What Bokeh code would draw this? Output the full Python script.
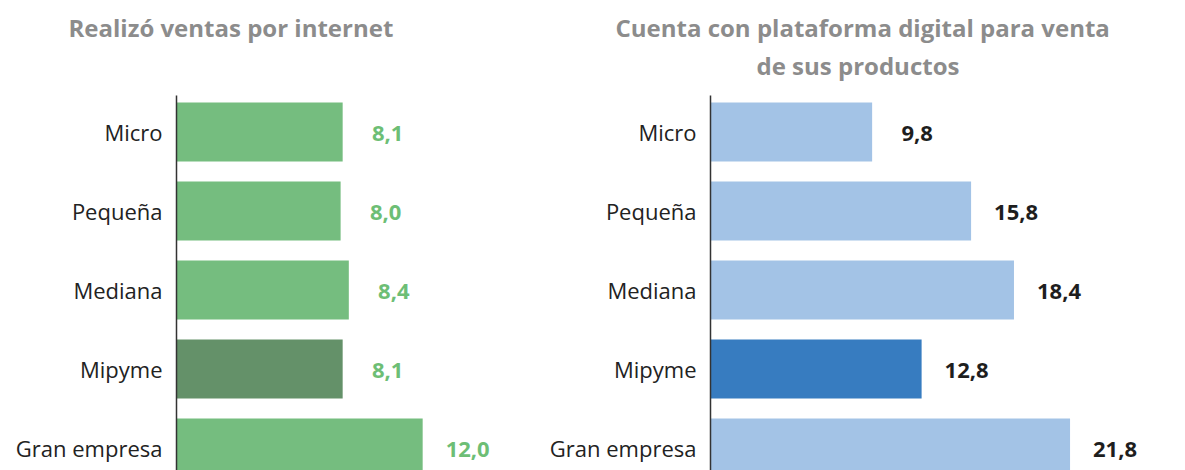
from bokeh.plotting import figure
from bokeh.layouts import row
from bokeh.models import ColumnDataSource, Range1d, FixedTicker, Title
from bokeh.core.properties import value
from bokeh.embed import file_html
from bokeh.resources import INLINE

categories = ["Micro", "Pequeña", "Mediana", "Mipyme", "Gran empresa"]
ventas_internet = [8.1, 8.0, 8.4, 8.1, 12.0]
plataforma_digital = [9.8, 15.8, 18.4, 12.8, 21.8]
highlight = "Mipyme"

title_left = "Realizó ventas por internet"
title_right = ["Cuenta con plataforma digital para venta", "de sus productos"]

FONT = "Open Sans"


def fmt(v):
    return f"{v:.1f}".replace(".", ",")


def add_title(p, txt, off, standoff, size="24px"):
    p.add_layout(Title(text=txt, align="left", offset=off, standoff=standoff,
                       text_font=FONT, text_font_size=size, text_font_style="bold",
                       text_color="#8c8c8c"), "above")


def make_panel(vals, width, border_left, x_end, light, dark, label_color):
    n = len(categories)
    ypos = list(range(n))
    colors = [dark if c == highlight else light for c in categories]
    src = ColumnDataSource(dict(y=ypos, v=vals, c=colors,
                                lab=[fmt(v) for v in vals], cat=categories))
    p = figure(width=width, height=470, output_backend="svg", toolbar_location=None,
               x_range=Range1d(0, x_end), y_range=Range1d(4.285, -0.462),
               min_border_left=border_left, min_border_right=0,
               min_border_top=95, min_border_bottom=0)
    p.hbar(y="y", left=0, right="v", height=0.747, fill_color="c", line_color=None, source=src)
    p.text(x="v", y="y", text="lab", source=src, x_offset=45, y_offset=2,
           text_align="center", text_baseline="middle",
           text_font=value(FONT), text_font_size="22px", text_font_style="bold",
           text_color=label_color)
    p.xaxis.visible = False
    p.xgrid.visible = False
    p.ygrid.visible = False
    p.outline_line_color = None
    ax = p.yaxis[0]
    ax.ticker = FixedTicker(ticks=ypos)
    ax.major_label_overrides = {i: c for i, c in zip(ypos, categories)}
    ax.major_tick_line_color = None
    ax.minor_tick_line_color = None
    ax.major_tick_out = 0
    ax.major_tick_in = 0
    ax.major_label_standoff = 14
    ax.axis_line_color = "#333333"
    ax.axis_line_width = 1.5
    ax.major_label_text_font = FONT
    ax.major_label_text_font_size = "22px"
    ax.major_label_text_color = "#222222"
    # spacer nearest the frame
    add_title(p, " ", 0, 0, size="7px")
    return p


p1 = make_panel(ventas_internet, 535, 176, 17.5, "#75bd7f", "#649169", "#6dbe75")
add_title(p1, " ", 0, 6)
add_title(p1, title_left, -108, 0)

p2 = make_panel(plataforma_digital, 650, 175, 28.8, "#a3c3e6", "#377cc0", "#1e1e1e")
add_title(p2, title_right[1], 46, 6)
add_title(p2, title_right[0], -95, 0)

layout = row(p1, p2)
open("out.html", "w").write(file_html(layout, INLINE))
